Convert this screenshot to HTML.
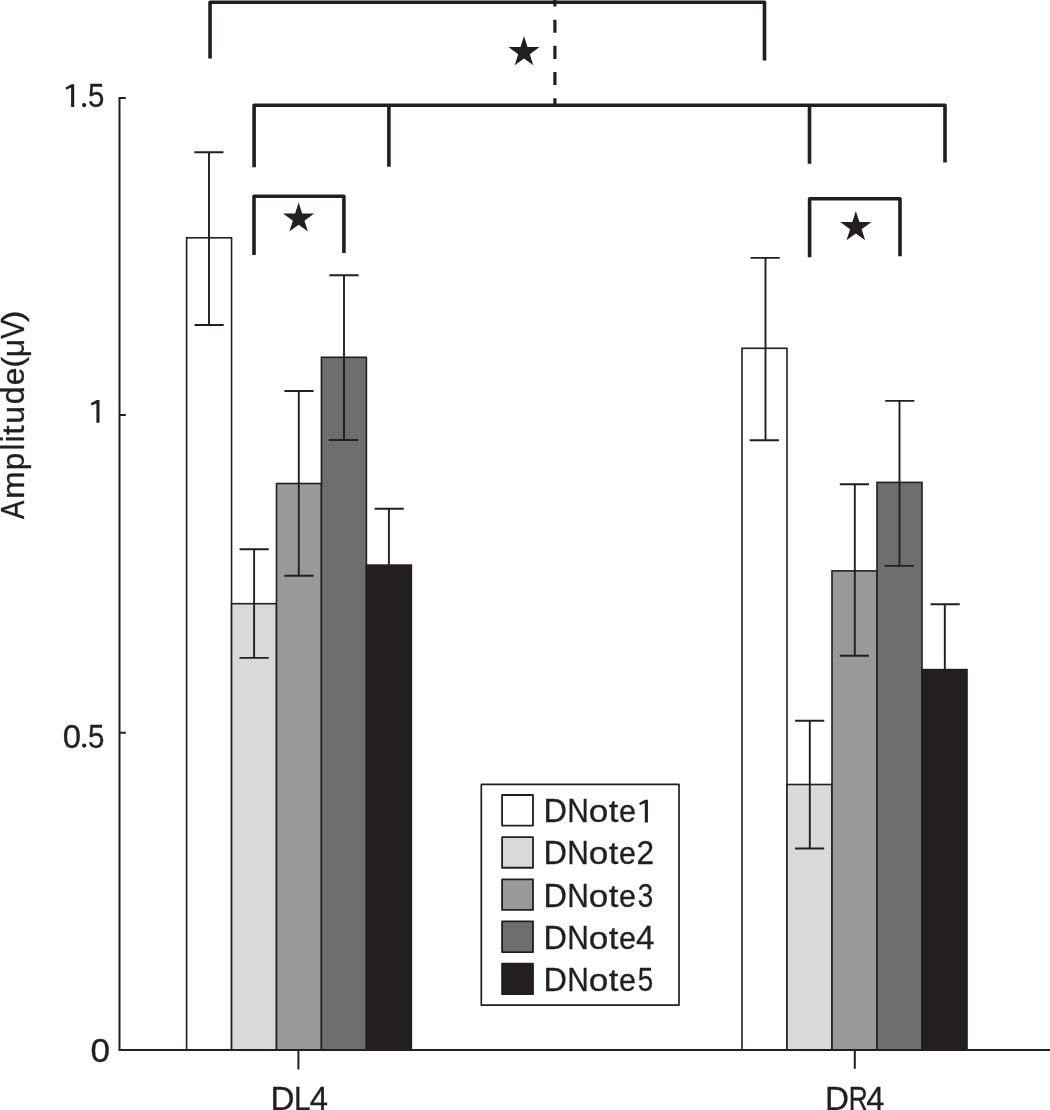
<!DOCTYPE html>
<html><head><meta charset="utf-8"><title>Chart</title>
<style>
html,body{margin:0;padding:0;background:#fff;}
body{width:1050px;height:1110px;overflow:hidden;}
svg{display:block;will-change:transform;}
text{font-family:"Liberation Sans",sans-serif;fill:#231f20;stroke:#231f20;stroke-width:0.3;}
</style></head><body>
<svg width="1050" height="1110" viewBox="0 0 1050 1110">
<rect width="1050" height="1110" fill="#fff"/>
<rect x="186.6" y="237.8" width="44.95" height="812.2" fill="#ffffff" stroke="#231f20" stroke-width="1.6"/>
<rect x="231.55" y="603.7" width="44.95" height="446.3" fill="#d8d9da" stroke="#231f20" stroke-width="1.6"/>
<rect x="276.5" y="483.5" width="44.95" height="566.5" fill="#98999b" stroke="#231f20" stroke-width="1.6"/>
<rect x="321.45" y="357.3" width="44.95" height="692.7" fill="#6d6e70" stroke="#231f20" stroke-width="1.6"/>
<rect x="366.4" y="565.1" width="44.95" height="484.9" fill="#231f20" stroke="#231f20" stroke-width="1.6"/>
<rect x="742" y="348.3" width="45" height="701.7" fill="#ffffff" stroke="#231f20" stroke-width="1.6"/>
<rect x="787" y="784.5" width="45" height="265.5" fill="#d8d9da" stroke="#231f20" stroke-width="1.6"/>
<rect x="832" y="570.9" width="45" height="479.1" fill="#98999b" stroke="#231f20" stroke-width="1.6"/>
<rect x="877" y="482.4" width="45" height="567.6" fill="#6d6e70" stroke="#231f20" stroke-width="1.6"/>
<rect x="922" y="669.6" width="45" height="380.4" fill="#231f20" stroke="#231f20" stroke-width="1.6"/>
<path d="M209 152.3V325M194.3 152.3H223.5M194.5 325H223.7" fill="none" stroke="#231f20" stroke-width="1.9"/>
<path d="M254.1 549.3V657.9M239.6 549.3H268.8M239.5 657.9H268.7" fill="none" stroke="#231f20" stroke-width="1.9"/>
<path d="M298.8 391V575.7M284.4 391H313.6M284.4 575.7H313.6" fill="none" stroke="#231f20" stroke-width="1.9"/>
<path d="M344 275.2V440M329.4 275.2H358.6M328.9 440H358.1" fill="none" stroke="#231f20" stroke-width="1.9"/>
<path d="M388.9 508.8V565.1M374.6 508.8H403.8" fill="none" stroke="#231f20" stroke-width="1.9"/>
<path d="M765.5 257.9V440.3M750.5 257.9H779.7M749.7 440.3H778.9" fill="none" stroke="#231f20" stroke-width="1.9"/>
<path d="M809.8 720.7V848.5M795.1 720.7H824.3M795 848.5H824.2" fill="none" stroke="#231f20" stroke-width="1.9"/>
<path d="M854.8 484.3V655.7M839.8 484.3H869M839.8 655.7H869" fill="none" stroke="#231f20" stroke-width="1.9"/>
<path d="M899.5 400.9V565.9M885.2 400.9H914.4M884.6 565.9H913.8" fill="none" stroke="#231f20" stroke-width="1.9"/>
<path d="M944.8 604.3V669.6M930.5 604.3H959.7" fill="none" stroke="#231f20" stroke-width="1.9"/>
<path d="M125.8 97.9H119.5V1050H1050" fill="none" stroke="#231f20" stroke-width="2.0"/>
<path d="M119.5 415H125.8M119.5 732.7H125.8M298.4 1050V1069.6M854.8 1050V1068.7" fill="none" stroke="#231f20" stroke-width="2.0"/>
<path d="M210.05 58.6V2.3H764.5V60.6" fill="none" stroke="#231f20" stroke-width="3.6" stroke-linejoin="round"/>
<path d="M254.1 167.3V105.2H945V162.5M388.9 105.2V166.8M809.5 105.2V163.7" fill="none" stroke="#231f20" stroke-width="3.6" stroke-linejoin="round"/>
<path d="M254 254.9V196.2H343.9V253.1" fill="none" stroke="#231f20" stroke-width="3.6" stroke-linejoin="round"/>
<path d="M809.6 257.3V198.7H900V256.3" fill="none" stroke="#231f20" stroke-width="3.6" stroke-linejoin="round"/>
<path d="M554.9 -6.45V105" fill="none" stroke="#231f20" stroke-width="3.2" stroke-dasharray="13.05 13.1"/>
<polygon points="524.00,36.10 527.52,47.10 539.60,47.10 529.79,54.23 533.30,65.20 524.00,58.44 514.70,65.20 518.21,54.23 508.40,47.10 520.48,47.10" fill="#231f20"/>
<polygon points="298.65,202.50 302.17,213.50 314.25,213.50 304.44,220.63 307.95,231.60 298.65,224.84 289.35,231.60 292.86,220.63 283.05,213.50 295.13,213.50" fill="#231f20"/>
<polygon points="855.85,211.10 859.37,222.10 871.45,222.10 861.64,229.23 865.15,240.20 855.85,233.44 846.55,240.20 850.06,229.23 840.25,222.10 852.33,222.10" fill="#231f20"/>
<rect x="481.3" y="784.3" width="197.7" height="220.8" fill="#fff" stroke="#231f20" stroke-width="1.7" stroke-linejoin="round"/>
<rect x="502.1" y="795" width="30.9" height="30.6" fill="#ffffff" stroke="#231f20" stroke-width="1.8" stroke-linejoin="round"/>
<rect x="502.1" y="837.15" width="30.9" height="30.6" fill="#d8d9da" stroke="#231f20" stroke-width="1.8" stroke-linejoin="round"/>
<rect x="502.1" y="879.3" width="30.9" height="30.6" fill="#98999b" stroke="#231f20" stroke-width="1.8" stroke-linejoin="round"/>
<rect x="502.1" y="921.45" width="30.9" height="30.6" fill="#6d6e70" stroke="#231f20" stroke-width="1.8" stroke-linejoin="round"/>
<rect x="502.1" y="963.6" width="30.9" height="30.6" fill="#231f20" stroke="#231f20" stroke-width="1.8" stroke-linejoin="round"/>
<text transform="translate(543.56 822.4) scale(0.985 1.000)" font-size="33">D</text>
<text transform="translate(567.27 822.4) scale(0.905 1.000)" font-size="33">N</text>
<text transform="translate(588.67 822.4) scale(1.065 0.925)" font-size="33">o</text>
<text transform="translate(608.76 822.4) scale(1.052 0.965)" font-size="33">t</text>
<text transform="translate(619.07 822.4) scale(0.924 0.925)" font-size="33">e</text>
<path d="M647.9 822.4V799.8H645.2L639.2 802.9L639.95 805.3L644.8 803.1V822.4Z" fill="#231f20"/>
<text transform="translate(543.56 864.3) scale(0.985 1.000)" font-size="33">D</text>
<text transform="translate(567.27 864.3) scale(0.905 1.000)" font-size="33">N</text>
<text transform="translate(588.67 864.3) scale(1.065 0.925)" font-size="33">o</text>
<text transform="translate(608.76 864.3) scale(1.052 0.965)" font-size="33">t</text>
<text transform="translate(619.07 864.3) scale(0.924 0.925)" font-size="33">e</text>
<text transform="translate(636.42 864.3) scale(0.956 1.000)" font-size="33">2</text>
<text transform="translate(543.56 906.9) scale(0.985 1.000)" font-size="33">D</text>
<text transform="translate(567.27 906.9) scale(0.905 1.000)" font-size="33">N</text>
<text transform="translate(588.67 906.9) scale(1.065 0.925)" font-size="33">o</text>
<text transform="translate(608.76 906.9) scale(1.052 0.965)" font-size="33">t</text>
<text transform="translate(619.07 906.9) scale(0.924 0.925)" font-size="33">e</text>
<text transform="translate(637.76 906.9) scale(0.842 1.000)" font-size="33">3</text>
<text transform="translate(543.56 949.3) scale(0.985 1.000)" font-size="33">D</text>
<text transform="translate(567.27 949.3) scale(0.905 1.000)" font-size="33">N</text>
<text transform="translate(588.67 949.3) scale(1.065 0.925)" font-size="33">o</text>
<text transform="translate(608.76 949.3) scale(1.052 0.965)" font-size="33">t</text>
<text transform="translate(619.07 949.3) scale(0.924 0.925)" font-size="33">e</text>
<text transform="translate(636.07 949.3) scale(1.006 1.000)" font-size="33">4</text>
<text transform="translate(543.56 991.4) scale(0.985 1.000)" font-size="33">D</text>
<text transform="translate(567.27 991.4) scale(0.905 1.000)" font-size="33">N</text>
<text transform="translate(588.67 991.4) scale(1.065 0.925)" font-size="33">o</text>
<text transform="translate(608.76 991.4) scale(1.052 0.965)" font-size="33">t</text>
<text transform="translate(619.07 991.4) scale(0.924 0.925)" font-size="33">e</text>
<text transform="translate(637.67 991.4) scale(0.842 1.000)" font-size="33">5</text>
<path d="M74.2 106.9V84.3H71.5L65.5 87.4L66.25 89.8L71.1 87.6V106.9Z" fill="#231f20"/>
<circle cx="84.15" cy="105.1" r="2.15" fill="#231f20"/>
<text transform="translate(88.1 106.9) scale(0.893 1.000)" font-size="33">5</text>
<path d="M99.5 422.7V400.1H96.8L90.8 403.2L91.55 405.6L96.4 403.4V422.7Z" fill="#231f20"/>
<text transform="translate(62.67 747.5) scale(0.995 1.000)" font-size="33">0</text>
<circle cx="84.15" cy="745.6" r="2.15" fill="#231f20"/>
<text transform="translate(88.1 747.5) scale(0.893 1.000)" font-size="33">5</text>
<text transform="translate(90.57 1062.2) scale(1.065 1.000)" font-size="33">0</text>
<text transform="translate(270.6 1109.6) scale(0.982 1.000)" font-size="33.8">D</text>
<text transform="translate(293.98 1109.6) scale(0.880 1.000)" font-size="33.8">L</text>
<text transform="translate(309.68 1109.6) scale(0.970 1.000)" font-size="33.8">4</text>
<text transform="translate(824.9 1109.6) scale(0.982 1.000)" font-size="33.8">D</text>
<text transform="translate(848.87 1109.6) scale(0.777 1.000)" font-size="33.8">R</text>
<text transform="translate(866.29 1109.6) scale(0.964 1.000)" font-size="33.8">4</text>
<text transform="translate(24 519.09) rotate(-90) scale(0.837 1.000)" font-size="33">A</text>
<text transform="translate(24 498.99) rotate(-90) scale(1.013 0.925)" font-size="33">m</text>
<text transform="translate(24 470.27) rotate(-90) scale(0.956 0.925)" font-size="33">p</text>
<text transform="translate(24 450.62) rotate(-90) scale(0.935 0.985)" font-size="33">l</text>
<text transform="translate(24 442.33) rotate(-90) scale(0.936 0.985)" font-size="33">i</text>
<text transform="translate(24 434.94) rotate(-90) scale(1.052 0.965)" font-size="33">t</text>
<text transform="translate(24 423.8) rotate(-90) scale(0.970 0.925)" font-size="33">u</text>
<text transform="translate(24 404.32) rotate(-90) scale(0.983 0.980)" font-size="33">d</text>
<text transform="translate(24 385.29) rotate(-90) scale(0.963 0.925)" font-size="33">e</text>
<text transform="translate(22.5 367.87) rotate(-90) scale(1.004 0.915)" font-size="33">(</text>
<text transform="translate(24 357.32) rotate(-90) scale(0.977 0.925)" font-size="33">μ</text>
<text transform="translate(24 338.98) rotate(-90) scale(0.896 1.000)" font-size="33">V</text>
<text transform="translate(22.5 322.13) rotate(-90) scale(1.095 0.915)" font-size="33">)</text>
</svg>
</body></html>
